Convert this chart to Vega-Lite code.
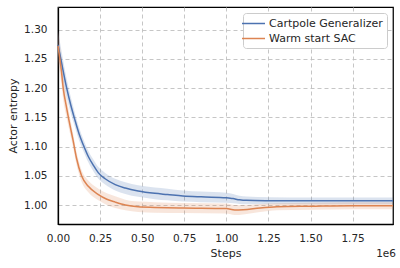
{
  "$schema": "https://vega.github.io/schema/vega-lite/v6.json",
  "width": 335,
  "height": 217,
  "autosize": "none",
  "padding": {"left": 58, "top": 7, "right": 7, "bottom": 44},
  "view": {"stroke": "#000000", "strokeWidth": 1.25},
  "title": {"text": "1e6", "orient": "bottom", "anchor": "end", "offset": -10, "fontSize": 10.5, "fontWeight": "normal", "font": "DejaVu Sans", "color": "#262626"},
  "config": {
    "font": "DejaVu Sans",
    "view": {"stroke": "#000000", "strokeWidth": 1.25},
    "axis": {"labelColor": "#262626", "titleColor": "#262626", "labelFontSize": 10.5, "titleFontSize": 11, "titleFontWeight": "normal", "grid": true, "gridColor": "#c0c0c0", "gridDash": [4, 3], "gridWidth": 0.9, "ticks": false, "domain": true, "domainColor": "#000000", "domainWidth": 1.25, "labelOverlap": false, "labelFlush": false}
  },
  "data": {"values": [
    {"step": 0, "series": "Cartpole Generalizer", "mean": 1.274, "lo": 1.250, "hi": 1.298},
    {"step": 20000, "series": "Cartpole Generalizer", "mean": 1.245, "lo": 1.225, "hi": 1.265},
    {"step": 50000, "series": "Cartpole Generalizer", "mean": 1.202, "lo": 1.186, "hi": 1.218},
    {"step": 75000, "series": "Cartpole Generalizer", "mean": 1.172, "lo": 1.158, "hi": 1.186},
    {"step": 100000, "series": "Cartpole Generalizer", "mean": 1.146, "lo": 1.134, "hi": 1.158},
    {"step": 125000, "series": "Cartpole Generalizer", "mean": 1.122, "lo": 1.111, "hi": 1.133},
    {"step": 150000, "series": "Cartpole Generalizer", "mean": 1.103, "lo": 1.093, "hi": 1.113},
    {"step": 180000, "series": "Cartpole Generalizer", "mean": 1.083, "lo": 1.073, "hi": 1.093},
    {"step": 210000, "series": "Cartpole Generalizer", "mean": 1.068, "lo": 1.058, "hi": 1.078},
    {"step": 240000, "series": "Cartpole Generalizer", "mean": 1.055, "lo": 1.045, "hi": 1.065},
    {"step": 280000, "series": "Cartpole Generalizer", "mean": 1.045, "lo": 1.035, "hi": 1.055},
    {"step": 340000, "series": "Cartpole Generalizer", "mean": 1.035, "lo": 1.025, "hi": 1.045},
    {"step": 400000, "series": "Cartpole Generalizer", "mean": 1.029, "lo": 1.019, "hi": 1.039},
    {"step": 476000, "series": "Cartpole Generalizer", "mean": 1.024, "lo": 1.014, "hi": 1.034},
    {"step": 575000, "series": "Cartpole Generalizer", "mean": 1.020, "lo": 1.010, "hi": 1.030},
    {"step": 650000, "series": "Cartpole Generalizer", "mean": 1.018, "lo": 1.008, "hi": 1.028},
    {"step": 742000, "series": "Cartpole Generalizer", "mean": 1.0155, "lo": 1.006, "hi": 1.025},
    {"step": 850000, "series": "Cartpole Generalizer", "mean": 1.014, "lo": 1.005, "hi": 1.023},
    {"step": 1000000, "series": "Cartpole Generalizer", "mean": 1.0126, "lo": 1.004, "hi": 1.021},
    {"step": 1040000, "series": "Cartpole Generalizer", "mean": 1.011, "lo": 1.003, "hi": 1.019},
    {"step": 1078000, "series": "Cartpole Generalizer", "mean": 1.009, "lo": 1.002, "hi": 1.016},
    {"step": 1120000, "series": "Cartpole Generalizer", "mean": 1.008, "lo": 1.0015, "hi": 1.0145},
    {"step": 1250000, "series": "Cartpole Generalizer", "mean": 1.0075, "lo": 1.0015, "hi": 1.0135},
    {"step": 1500000, "series": "Cartpole Generalizer", "mean": 1.0072, "lo": 1.0015, "hi": 1.013},
    {"step": 1750000, "series": "Cartpole Generalizer", "mean": 1.0072, "lo": 1.0015, "hi": 1.013},
    {"step": 1990000, "series": "Cartpole Generalizer", "mean": 1.0072, "lo": 1.0015, "hi": 1.013},
    {"step": 0, "series": "Warm start SAC", "mean": 1.272, "lo": 1.246, "hi": 1.298},
    {"step": 20000, "series": "Warm start SAC", "mean": 1.230, "lo": 1.208, "hi": 1.252},
    {"step": 31000, "series": "Warm start SAC", "mean": 1.200, "lo": 1.180, "hi": 1.220},
    {"step": 50000, "series": "Warm start SAC", "mean": 1.168, "lo": 1.151, "hi": 1.185},
    {"step": 70000, "series": "Warm start SAC", "mean": 1.138, "lo": 1.124, "hi": 1.152},
    {"step": 90000, "series": "Warm start SAC", "mean": 1.110, "lo": 1.098, "hi": 1.122},
    {"step": 110000, "series": "Warm start SAC", "mean": 1.080, "lo": 1.069, "hi": 1.091},
    {"step": 140000, "series": "Warm start SAC", "mean": 1.050, "lo": 1.040, "hi": 1.060},
    {"step": 180000, "series": "Warm start SAC", "mean": 1.032, "lo": 1.022, "hi": 1.042},
    {"step": 240000, "series": "Warm start SAC", "mean": 1.018, "lo": 1.008, "hi": 1.028},
    {"step": 290000, "series": "Warm start SAC", "mean": 1.010, "lo": 1.000, "hi": 1.020},
    {"step": 340000, "series": "Warm start SAC", "mean": 1.005, "lo": 0.995, "hi": 1.015},
    {"step": 400000, "series": "Warm start SAC", "mean": 1.000, "lo": 0.991, "hi": 1.009},
    {"step": 476000, "series": "Warm start SAC", "mean": 0.997, "lo": 0.988, "hi": 1.006},
    {"step": 575000, "series": "Warm start SAC", "mean": 0.996, "lo": 0.987, "hi": 1.005},
    {"step": 742000, "series": "Warm start SAC", "mean": 0.995, "lo": 0.9865, "hi": 1.0035},
    {"step": 1000000, "series": "Warm start SAC", "mean": 0.994, "lo": 0.9855, "hi": 1.0025},
    {"step": 1050000, "series": "Warm start SAC", "mean": 0.9915, "lo": 0.983, "hi": 1.000},
    {"step": 1100000, "series": "Warm start SAC", "mean": 0.992, "lo": 0.984, "hi": 1.000},
    {"step": 1200000, "series": "Warm start SAC", "mean": 0.995, "lo": 0.988, "hi": 1.002},
    {"step": 1300000, "series": "Warm start SAC", "mean": 0.997, "lo": 0.991, "hi": 1.003},
    {"step": 1500000, "series": "Warm start SAC", "mean": 0.998, "lo": 0.992, "hi": 1.004},
    {"step": 1750000, "series": "Warm start SAC", "mean": 0.999, "lo": 0.993, "hi": 1.005},
    {"step": 1990000, "series": "Warm start SAC", "mean": 0.999, "lo": 0.993, "hi": 1.005}
  ]},
  "encoding": {
    "x": {"field": "step", "type": "quantitative", "title": "Steps",
      "scale": {"domain": [0, 1990000], "nice": false, "zero": false},
      "axis": {"values": [0, 250000, 500000, 750000, 1000000, 1250000, 1500000, 1750000], "labelExpr": "format(datum.value / 1000000, '.2f')", "labelPadding": 9, "titlePadding": 4}},
    "color": {"field": "series", "type": "nominal", "title": null,
      "scale": {"domain": ["Cartpole Generalizer", "Warm start SAC"], "range": ["#4c72b0", "#dd8452"]},
      "legend": {"orient": "top-right", "offset": 6, "symbolType": "M-2,0L2,0", "symbolSize": 132, "symbolStrokeWidth": 1.5, "symbolOpacity": 1, "symbolFillColor": "transparent", "labelFontSize": 11, "labelColor": "#262626", "labelOffset": 9, "padding": 4, "rowPadding": 3, "strokeColor": "#cccccc", "fillColor": "#ffffff", "cornerRadius": 3}}
  },
  "layer": [
    {
      "mark": {"type": "area", "interpolate": "monotone", "fillOpacity": 0.2},
      "encoding": {
        "y": {"field": "lo", "type": "quantitative", "title": "Actor entropy",
          "scale": {"domain": [0.9676, 1.3386], "nice": false, "zero": false},
          "axis": {"values": [1.0, 1.05, 1.1, 1.15, 1.2, 1.25, 1.3], "format": ".2f", "labelPadding": 11, "titlePadding": 5}},
        "y2": {"field": "hi"}
      }
    },
    {
      "mark": {"type": "line", "interpolate": "monotone", "strokeWidth": 1.5},
      "encoding": {
        "y": {"field": "mean", "type": "quantitative", "title": "Actor entropy",
          "scale": {"domain": [0.9676, 1.3386], "nice": false, "zero": false},
          "axis": {"values": [1.0, 1.05, 1.1, 1.15, 1.2, 1.25, 1.3], "format": ".2f", "labelPadding": 11, "titlePadding": 5}}
      }
    }
  ]
}
